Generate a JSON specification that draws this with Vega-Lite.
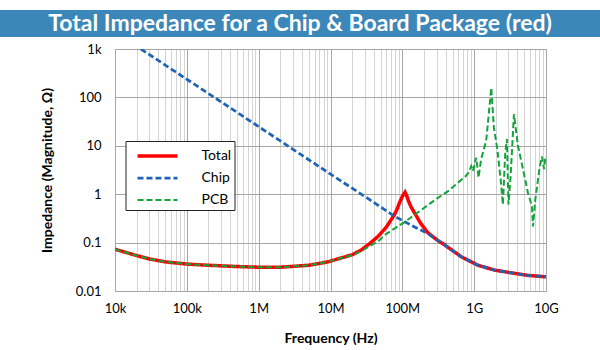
{
  "$schema": "https://vega.github.io/schema/vega-lite/v6.json",
  "background": "white",
  "padding": {"top": 10, "left": 0, "right": 0, "bottom": 0},
  "spacing": 5,
  "resolve": {"legend": {"color": "independent", "strokeDash": "independent", "strokeWidth": "independent"}},
  "config": {"font": "Lato", "view": {"stroke": null}},
  "datasets": {
    "curves": [
      {"s": "Total", "f": 1e4, "z": 0.073},
      {"s": "Total", "f": 2e4, "z": 0.054},
      {"s": "Total", "f": 3e4, "z": 0.046},
      {"s": "Total", "f": 5e4, "z": 0.040},
      {"s": "Total", "f": 1e5, "z": 0.036},
      {"s": "Total", "f": 2e5, "z": 0.034},
      {"s": "Total", "f": 5e5, "z": 0.032},
      {"s": "Total", "f": 1e6, "z": 0.031},
      {"s": "Total", "f": 2e6, "z": 0.031},
      {"s": "Total", "f": 5e6, "z": 0.034},
      {"s": "Total", "f": 9.2e6, "z": 0.040},
      {"s": "Total", "f": 1.2e7, "z": 0.045},
      {"s": "Total", "f": 2e7, "z": 0.056},
      {"s": "Total", "f": 2.67e7, "z": 0.07},
      {"s": "Total", "f": 3.5e7, "z": 0.095},
      {"s": "Total", "f": 4.56e7, "z": 0.133},
      {"s": "Total", "f": 6e7, "z": 0.21},
      {"s": "Total", "f": 7.78e7, "z": 0.38},
      {"s": "Total", "f": 8.5e7, "z": 0.5},
      {"s": "Total", "f": 9.1e7, "z": 0.66},
      {"s": "Total", "f": 1e8, "z": 0.9},
      {"s": "Total", "f": 1.09e8, "z": 1.1},
      {"s": "Total", "f": 1.15e8, "z": 0.93},
      {"s": "Total", "f": 1.22e8, "z": 0.72},
      {"s": "Total", "f": 1.32e8, "z": 0.55},
      {"s": "Total", "f": 1.48e8, "z": 0.41},
      {"s": "Total", "f": 1.8e8, "z": 0.25},
      {"s": "Total", "f": 2.26e8, "z": 0.16},
      {"s": "Total", "f": 3.13e8, "z": 0.11},
      {"s": "Total", "f": 3.87e8, "z": 0.09},
      {"s": "Total", "f": 6.61e8, "z": 0.051},
      {"s": "Total", "f": 1.13e9, "z": 0.034},
      {"s": "Total", "f": 1.93e9, "z": 0.027},
      {"s": "Total", "f": 3.3e9, "z": 0.0237},
      {"s": "Total", "f": 5.6e9, "z": 0.021},
      {"s": "Total", "f": 1e10, "z": 0.0196},

      {"s": "Chip", "f": 2.29e4, "z": 1000},
      {"s": "Chip", "f": 5e4, "z": 466},
      {"s": "Chip", "f": 1e5, "z": 237},
      {"s": "Chip", "f": 1e6, "z": 24.9},
      {"s": "Chip", "f": 1e7, "z": 2.6},
      {"s": "Chip", "f": 3e7, "z": 0.9},
      {"s": "Chip", "f": 7.78e7, "z": 0.35},
      {"s": "Chip", "f": 1.48e8, "z": 0.21},
      {"s": "Chip", "f": 2.26e8, "z": 0.155},
      {"s": "Chip", "f": 3.13e8, "z": 0.11},
      {"s": "Chip", "f": 3.87e8, "z": 0.09},
      {"s": "Chip", "f": 6.61e8, "z": 0.051},
      {"s": "Chip", "f": 1.13e9, "z": 0.034},
      {"s": "Chip", "f": 1.93e9, "z": 0.027},
      {"s": "Chip", "f": 3.3e9, "z": 0.0237},
      {"s": "Chip", "f": 5.6e9, "z": 0.021},
      {"s": "Chip", "f": 1e10, "z": 0.0196},

      {"s": "PCB", "f": 1e4, "z": 0.073},
      {"s": "PCB", "f": 2e4, "z": 0.054},
      {"s": "PCB", "f": 3e4, "z": 0.046},
      {"s": "PCB", "f": 5e4, "z": 0.040},
      {"s": "PCB", "f": 1e5, "z": 0.036},
      {"s": "PCB", "f": 2e5, "z": 0.034},
      {"s": "PCB", "f": 5e5, "z": 0.032},
      {"s": "PCB", "f": 1e6, "z": 0.031},
      {"s": "PCB", "f": 2e6, "z": 0.031},
      {"s": "PCB", "f": 5e6, "z": 0.034},
      {"s": "PCB", "f": 9.2e6, "z": 0.040},
      {"s": "PCB", "f": 1.2e7, "z": 0.045},
      {"s": "PCB", "f": 2e7, "z": 0.055},
      {"s": "PCB", "f": 2.67e7, "z": 0.066},
      {"s": "PCB", "f": 3.5e7, "z": 0.085},
      {"s": "PCB", "f": 4.56e7, "z": 0.105},
      {"s": "PCB", "f": 6e7, "z": 0.152},
      {"s": "PCB", "f": 7.78e7, "z": 0.195},
      {"s": "PCB", "f": 1.09e8, "z": 0.27},
      {"s": "PCB", "f": 1.5e8, "z": 0.38},
      {"s": "PCB", "f": 2e8, "z": 0.52},
      {"s": "PCB", "f": 3.13e8, "z": 0.84},
      {"s": "PCB", "f": 4.5e8, "z": 1.2},
      {"s": "PCB", "f": 5.94e8, "z": 1.73},
      {"s": "PCB", "f": 7.5e8, "z": 2.3},
      {"s": "PCB", "f": 8.5e8, "z": 2.9},
      {"s": "PCB", "f": 9.1e8, "z": 3.8},
      {"s": "PCB", "f": 9.62e8, "z": 3.0},
      {"s": "PCB", "f": 1.07e9, "z": 5.7},
      {"s": "PCB", "f": 1.15e9, "z": 2.2},
      {"s": "PCB", "f": 1.25e9, "z": 5.3},
      {"s": "PCB", "f": 1.47e9, "z": 12.7},
      {"s": "PCB", "f": 1.73e9, "z": 157},
      {"s": "PCB", "f": 1.88e9, "z": 24},
      {"s": "PCB", "f": 2.1e9, "z": 8.5},
      {"s": "PCB", "f": 2.34e9, "z": 2.0},
      {"s": "PCB", "f": 2.51e9, "z": 0.61},
      {"s": "PCB", "f": 2.71e9, "z": 7.3},
      {"s": "PCB", "f": 2.86e9, "z": 13.8},
      {"s": "PCB", "f": 3.0e9, "z": 0.61},
      {"s": "PCB", "f": 3.22e9, "z": 2.4},
      {"s": "PCB", "f": 3.58e9, "z": 45},
      {"s": "PCB", "f": 4.07e9, "z": 10},
      {"s": "PCB", "f": 4.78e9, "z": 3.3},
      {"s": "PCB", "f": 5.6e9, "z": 1.07},
      {"s": "PCB", "f": 6.38e9, "z": 0.56},
      {"s": "PCB", "f": 6.6e9, "z": 0.215},
      {"s": "PCB", "f": 7.1e9, "z": 0.78},
      {"s": "PCB", "f": 8.2e9, "z": 3.8},
      {"s": "PCB", "f": 8.8e9, "z": 6.0},
      {"s": "PCB", "f": 9.4e9, "z": 3.3},
      {"s": "PCB", "f": 9.8e9, "z": 5.7},
      {"s": "PCB", "f": 1e10, "z": 4.8}
    ]
  },
  "vconcat": [
    {
      "width": 600,
      "height": 27,
      "view": {"fill": "#3b87b9", "stroke": null},
      "data": {"values": [{"t": "Total Impedance for a Chip & Board Package (red)"}]},
      "mark": {"type": "text", "color": "white", "font": "Lato", "fontWeight": "bold", "fontSize": 23, "align": "center", "baseline": "middle"},
      "encoding": {"text": {"field": "t", "type": "nominal"}}
    },
    {
      "spacing": 0,
      "resolve": {"legend": {"color": "independent", "strokeDash": "independent", "strokeWidth": "independent"}},
      "hconcat": [
        {
          "width": 39,
          "height": 242,
          "view": {"stroke": null},
          "data": {"values": []},
          "mark": "point"
        },
        {
          "width": 431,
          "height": 242,
          "view": {"stroke": "#a6a6a6"},
          "data": {"name": "curves"},
          "encoding": {
            "x": {
              "field": "f", "type": "quantitative",
              "scale": {"type": "log", "domain": [1e4, 1e10], "nice": false},
              "axis": {
                "title": "Frequency (Hz)",
                "values": [1e4, 2e4, 3e4, 4e4, 5e4, 6e4, 7e4, 8e4, 9e4,
                           1e5, 2e5, 3e5, 4e5, 5e5, 6e5, 7e5, 8e5, 9e5,
                           1e6, 2e6, 3e6, 4e6, 5e6, 6e6, 7e6, 8e6, 9e6,
                           1e7, 2e7, 3e7, 4e7, 5e7, 6e7, 7e7, 8e7, 9e7,
                           1e8, 2e8, 3e8, 4e8, 5e8, 6e8, 7e8, 8e8, 9e8,
                           1e9, 2e9, 3e9, 4e9, 5e9, 6e9, 7e9, 8e9, 9e9, 1e10],
                "labelExpr": "abs(log(datum.value)/LN10 - round(log(datum.value)/LN10)) < 0.001 ? format(datum.value, '~s') : ''",
                "gridColor": {"condition": {"test": "abs(log(datum.value)/LN10 - round(log(datum.value)/LN10)) < 0.001", "value": "#a6a6a6"}, "value": "#d4d4d4"},
                "ticks": false,
                "domain": false,
                "labelOverlap": false,
                "labelFlush": false,
                "labelFont": "Lato",
                "labelFontSize": 13,
                "labelColor": "#000000",
                "labelPadding": 11,
                "titleFont": "Lato",
                "titleFontSize": 14,
                "titleFontWeight": "bold",
                "titleColor": "#000000",
                "titlePadding": 16
              }
            },
            "y": {
              "field": "z", "type": "quantitative",
              "scale": {"type": "log", "domain": [0.01, 1000], "nice": false},
              "axis": {
                "title": "Impedance (Magnitude, Ω)",
                "values": [0.01, 0.1, 1, 10, 100, 1000],
                "labelExpr": "datum.value >= 999 ? '1k' : format(datum.value, '~g')",
                "gridColor": "#a6a6a6",
                "ticks": false,
                "domain": false,
                "labelOverlap": false,
                "labelFlush": false,
                "labelFont": "Lato",
                "labelFontSize": 13,
                "labelColor": "#000000",
                "labelPadding": 14,
                "titleFont": "Lato",
                "titleFontSize": 14,
                "titleFontWeight": "bold",
                "titleColor": "#000000",
                "titlePadding": 21
              }
            },
            "color": {
              "field": "s", "type": "nominal",
              "scale": {"domain": ["Total", "Chip", "PCB"], "range": ["#ff0000", "#1f63b5", "#12a33a"]},
              "legend": {
                "title": null,
                "orient": "none",
                "legendX": 10.5,
                "legendY": 92,
                "fillColor": "white",
                "strokeColor": "#222222",
                "padding": 3,
                "symbolOffset": 17,
                "symbolType": "M-2,0H2",
                "symbolSize": 400,
                "rowPadding": 3.5,
                "labelFont": "Lato",
                "labelFontSize": 14,
                "labelColor": "#000000",
                "labelOffset": 32,
                "labelExpr": "datum.label + '\u00a0\u00a0\u00a0\u00a0\u00a0\u00a0\u00a0\u00a0\u00a0'"
              }
            },
            "strokeDash": {
              "field": "s", "type": "nominal",
              "scale": {"domain": ["Total", "Chip", "PCB"], "range": [[1, 0], [6, 3], [6, 3]]},
              "legend": null
            },
            "strokeWidth": {
              "field": "s", "type": "nominal",
              "scale": {"domain": ["Total", "Chip", "PCB"], "range": [3.5, 2, 2]},
              "legend": null
            }
          },
          "layer": [
            {"transform": [{"filter": "datum.s === 'Total'"}], "mark": {"type": "line", "clip": true}},
            {"transform": [{"filter": "datum.s === 'Chip'"}], "mark": {"type": "line", "clip": true}},
            {"transform": [{"filter": "datum.s === 'PCB'"}], "mark": {"type": "line", "clip": true}}
          ]
        }
      ]
    }
  ]
}
